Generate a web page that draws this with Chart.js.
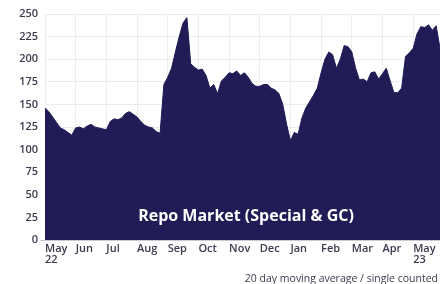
<!DOCTYPE html>
<html>
<head>
<meta charset="utf-8">
<script src="https://cdn.jsdelivr.net/npm/chart.js@4/dist/chart.umd.min.js"></script>
<style>
  html, body { margin: 0; padding: 0; background: #fff; }
  #wrap { width: 440px; height: 284px; position: relative; }
</style>
</head>
<body>
<div id="wrap"><canvas id="repoChart"></canvas></div>
<script>
// month tick labels (May 2022 .. May 2023)
const MONTHS = ["May", "Jun", "Jul", "Aug", "Sep", "Oct", "Nov", "Dec", "Jan", "Feb", "Mar", "Apr", "May"];
const YEARS  = { 0: "22", 12: "23" };

// repo market volume, 20 day moving average, sampled 8 times a month from May 2022
const REPO = [
  146, 142, 136, 130, 124, 122, 119, 116,
  124, 125, 123, 126, 128, 125, 124, 123,
  122, 131, 134, 133, 135, 140, 142, 139,
  136, 131, 127, 125, 124, 120, 118, 172,
  180, 190, 208, 225, 240, 246, 195, 191,
  188, 189, 182, 168, 172, 162, 176, 180,
  185, 184, 187, 182, 185, 180, 173, 170,
  170, 172, 172, 168, 166, 162, 150, 128,
  110, 119, 117, 135, 146, 153, 160, 168,
  185, 200, 208, 205, 190, 200, 215, 214,
  208, 190, 177, 178, 175, 185, 186, 178,
  184, 190, 176, 163, 163, 168, 203, 207,
  212, 228, 236, 235, 238, 232, 237, 212
];
const PER_MONTH = 8;

const TITLE  = "Repo Market (Special & GC)";
const FOOTER = "20 day moving average / single counted";

const NAVY = "#211b56";
const TEXT = "#3b3b4f";
const GRID = "#ebebf0";

const labelsPlugin = {
  id: "labels",
  afterDatasetsDraw(chart) {
    const { ctx } = chart;
    ctx.save();
    ctx.fillStyle = "#ffffff";
    ctx.font = "bold 16px 'Open Sans'";
    ctx.textAlign = "center";
    ctx.textBaseline = "middle";
    ctx.fillText(TITLE, 246, 216);
    ctx.fillStyle = TEXT;
    ctx.font = "10.5px 'Open Sans'";
    ctx.textAlign = "right";
    ctx.fillText(FOOTER, chart.width - 2, 279);
    ctx.restore();
  }
};

new Chart(document.getElementById("repoChart"), {
  type: "line",
  data: {
    datasets: [{
      data: REPO.map((v, i) => ({ x: i / PER_MONTH, y: v })),
      borderColor: NAVY,
      backgroundColor: NAVY,
      borderWidth: 1,
      fill: "origin",
      pointRadius: 0,
      tension: 0
    }]
  },
  options: {
    responsive: true,
    maintainAspectRatio: false,
    animation: false,
    layout: { padding: { top: 14, right: 0, left: 0, bottom: 16 } },
    plugins: { legend: { display: false }, tooltip: { enabled: false } },
    scales: {
      x: {
        type: "linear",
        min: 0,
        max: (REPO.length - 1) / PER_MONTH,
        afterFit(s) { s.height = 28; },
        border: { color: "#c9c9d2" },
        grid: { color: GRID, drawTicks: false },
        ticks: {
          stepSize: 1,
          includeBounds: false,
          align: "start",
          padding: 4,
          maxRotation: 0,
          autoSkip: false,
          color: TEXT,
          font: { family: "'Open Sans'", size: 11, weight: 600, lineHeight: 0.95 },
          callback: v => YEARS[v] ? [MONTHS[v], YEARS[v]] : MONTHS[v]
        }
      },
      y: {
        min: 0,
        max: 250,
        afterFit(s) { s.width = 45; },
        border: { display: false },
        grid: { color: GRID, tickLength: 5, tickColor: c => c.tick.value === 0 ? "#c9c9d2" : "transparent" },
        ticks: {
          stepSize: 25,
          padding: 2,
          color: TEXT,
          font: { family: "'Open Sans'", size: 11, weight: 600 }
        }
      }
    }
  },
  plugins: [labelsPlugin]
});
</script>
</body>
</html>
